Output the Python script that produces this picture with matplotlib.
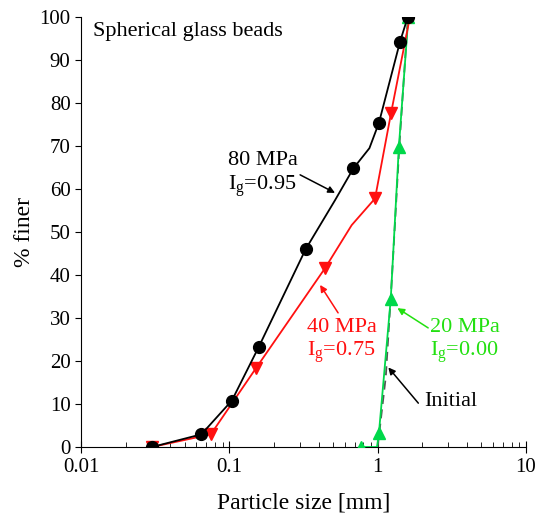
import matplotlib
matplotlib.use("Agg")
import matplotlib.pyplot as plt

plt.rcParams["font.family"] = "Liberation Serif"
plt.rcParams["mathtext.fontset"] = "custom"
plt.rcParams["mathtext.rm"] = "Liberation Serif"
plt.rcParams["mathtext.it"] = "Liberation Serif:italic"

# 80 MPa (line points, markers on a subset)
size_80 = [0.0301, 0.0648, 0.104, 0.158, 0.327, 0.516, 0.686, 0.88, 1.02, 1.416, 1.596]
finer_80 = [0.0, 2.95, 10.8, 23.3, 46.0, 57.4, 64.8, 69.5, 75.4, 94.3, 100.0]
marks_80 = [0, 1, 2, 3, 4, 6, 8, 9, 10]

# 40 MPa
size_40 = [0.0301, 0.075, 0.151, 0.442, 0.668, 0.96, 1.23, 1.65]
finer_40 = [0.0, 2.95, 18.3, 41.6, 51.6, 57.8, 77.6, 100.0]
marks_40 = [0, 1, 2, 3, 5, 6, 7]

# 20 MPa
size_20 = [0.773, 0.99, 1.02, 1.225, 1.39, 1.61]
finer_20 = [0.0, 0.0, 3.3, 34.4, 69.8, 100.0]
marks_20 = [0, 2, 3, 4, 5]

# Initial
size_init = [1.0, 1.135, 1.245, 1.4, 1.6]
finer_init = [0.0, 16.4, 38.8, 70.0, 100.0]

RED = "#ff1010"
GREEN = "#00d84a"
GREEN_TXT = "#22e010"


def arrow(ax, head, tail, color):
    ax.annotate("", xy=head, xytext=tail,
                arrowprops=dict(arrowstyle="-|>", color=color, lw=1.1,
                                mutation_scale=10, shrinkA=0, shrinkB=0))


def main():
    fig = plt.figure(figsize=(5.44, 5.19), dpi=100)
    ax = fig.add_axes([0.1489, 0.1387, 0.818, 0.8285])

    ax.plot(size_init, finer_init, color="#555555", lw=1.3, ls=(0, (5, 3)), zorder=2)
    ax.plot(size_20, finer_20, color=GREEN, lw=1.3, marker="^", ms=9,
            markevery=marks_20, zorder=3)
    ax.plot(size_40, finer_40, color=RED, lw=1.3, marker="v", ms=9,
            markevery=marks_40, zorder=4)
    ax.plot(size_80, finer_80, color="black", lw=1.3, marker="o", ms=8.5,
            markevery=marks_80, zorder=5)

    ax.set_xscale("log")
    ax.set_xlim(0.01, 10)
    ax.set_ylim(0, 100)
    ax.set_yticks(range(0, 101, 10))
    ax.set_xticks([0.01, 0.1, 1, 10])
    ax.set_xticklabels(["0.01", "0.1", "1", "10"])
    ax.spines["top"].set_visible(False)
    ax.spines["right"].set_visible(False)
    ax.tick_params(axis="x", which="major", direction="inout", length=8, labelsize=15, pad=4)
    ax.tick_params(axis="x", which="minor", direction="in", length=3.5)
    ax.tick_params(axis="y", direction="out", length=4, labelsize=15)
    ax.set_xlabel("Particle size [mm]", fontsize=17, labelpad=11)
    ax.set_ylabel("% finer", fontsize=17, labelpad=3)

    fs = 16
    ax.text(0.026, 0.988, "Spherical glass beads", transform=ax.transAxes,
            fontsize=fs, va="top", ha="left")

    ax.text(0.098, 68.8, "80 MPa\nI$_\\mathrm{g}$=0.95", fontsize=fs, va="top", ha="left")
    arrow(ax, (0.516, 59.1), (0.30, 63.3), "black")

    ax.text(0.333, 30.1, "40 MPa\nI$_\\mathrm{g}$=0.75", fontsize=fs, va="top", ha="left", color=RED)
    arrow(ax, (0.409, 37.7), (0.541, 31.2), RED)

    ax.text(2.26, 30.1, "20 MPa\nI$_\\mathrm{g}$=0.00", fontsize=fs, va="top", ha="left", color=GREEN_TXT)
    arrow(ax, (1.358, 32.3), (2.19, 27.7), GREEN_TXT)

    ax.text(2.06, 12.9, "Initial", fontsize=fs, va="top", ha="left")
    arrow(ax, (1.18, 18.5), (1.88, 10.2), "black")

    fig.savefig("out.png", dpi=100)


if __name__ == "__main__":
    main()
